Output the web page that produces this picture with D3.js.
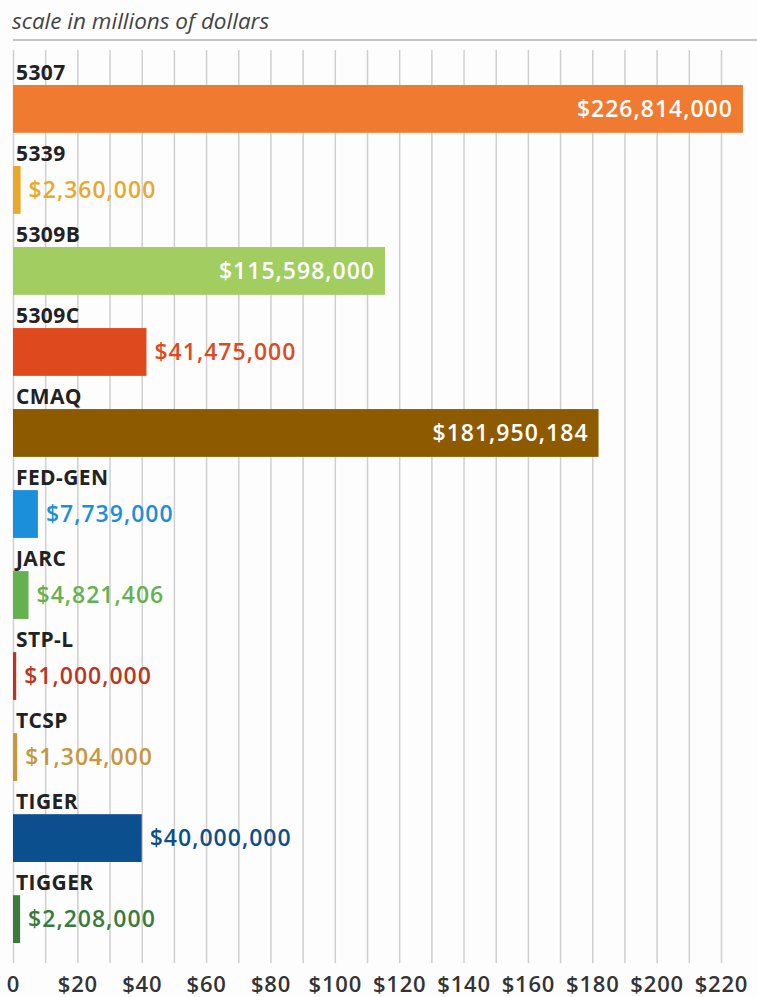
<!DOCTYPE html>
<html>
<head>
    <title>Funding by program</title>
    <script src="https://d3js.org/d3.v7.min.js"></script>
    <style>
        body { margin: 0; background: #fdfdfd; }
        .chart-title { font-family: "Open Sans", sans-serif; font-style: italic; font-weight: 400; font-size: 22.5px; fill: #444; }
        .cat-label { font-family: "Open Sans", sans-serif; font-weight: 700; font-size: 21px; fill: #222; letter-spacing: 0.4px; }
        .val-label { font-family: "Open Sans", sans-serif; font-weight: 600; font-size: 23px; letter-spacing: 1px; }
        .grid line { stroke: #cfcfcf; stroke-width: 1.5; }
        .grid path { display: none; }
        .x-axis path, .x-axis line { display: none; }
        .x-axis text { font-family: "Open Sans", sans-serif; font-weight: 600; font-size: 22px; fill: #333; letter-spacing: 0.8px; }
    </style>
</head>
<body>
<div id="chart"></div>
<script>
    // program names, top to bottom
    const programs = ["5307", "5339", "5309B", "5309C", "CMAQ", "FED-GEN", "JARC", "STP-L", "TCSP", "TIGER", "TIGGER"];
    // funding in dollars
    const amounts = [226814000, 2360000, 115598000, 41475000, 181950184, 7739000, 4821406, 1000000, 1304000, 40000000, 2208000];
    const barColors = ["#f07a30", "#e9a82b", "#a2cd60", "#de4a1e", "#8e5a00", "#1b8fd9", "#65b04f", "#bb3524", "#c8963c", "#0c4f8e", "#3a7a3b"];
    // axis ticks in millions
    const tickValues = [0, 20, 40, 60, 80, 100, 120, 140, 160, 180, 200, 220];
    const gridValues = d3.range(0, 230, 10);

    const W = 757, H = 997;
    const svg = d3.select("#chart").append("svg")
        .attr("width", W)
        .attr("height", H);

    const x = d3.scaleLinear().domain([0, 220]).range([13, 721]);
    const y = d3.scaleBand().domain(programs).range([85, 943]).paddingInner(0.41).paddingOuter(0);

    const gridTop = 50, gridBottom = 963;

    // title + rule
    svg.append("text").attr("class", "chart-title")
        .attr("x", 12).attr("y", 29)
        .text("scale in millions of dollars");
    svg.append("line")
        .attr("x1", 13).attr("x2", W)
        .attr("y1", 40).attr("y2", 40)
        .attr("stroke", "#c4c4c4").attr("stroke-width", 2);

    // vertical gridlines every $10M
    svg.append("g").attr("class", "grid")
        .attr("transform", `translate(0,${gridBottom})`)
        .call(d3.axisBottom(x).tickValues(gridValues).tickSize(-(gridBottom - gridTop)).tickFormat(""));

    // tick labels
    svg.append("g").attr("class", "x-axis")
        .attr("transform", `translate(0,${gridBottom})`)
        .call(d3.axisBottom(x).tickValues(tickValues).tickSize(0).tickPadding(13)
            .tickFormat(d => d === 0 ? "0" : "$" + d));

    const data = programs.map((p, i) => ({ name: p, value: amounts[i] / 1e6, raw: amounts[i], color: barColors[i] }));
    const fmt = d3.format("$,");

    const rows = svg.selectAll(".row").data(data).enter().append("g").attr("class", "row");

    rows.append("text").attr("class", "cat-label")
        .attr("x", 16)
        .attr("y", d => y(d.name) - 5)
        .text(d => d.name);

    rows.append("rect")
        .attr("x", x(0))
        .attr("y", d => y(d.name))
        .attr("width", d => x(d.value) - x(0))
        .attr("height", y.bandwidth())
        .attr("fill", d => d.color);

    rows.append("text").attr("class", "val-label")
        .attr("y", d => y(d.name) + y.bandwidth() / 2)
        .attr("dy", "0.36em")
        .attr("x", d => d.value > 100 ? x(d.value) - 10 : x(d.value) + 8)
        .attr("text-anchor", d => d.value > 100 ? "end" : "start")
        .attr("fill", d => d.value > 100 ? "#fff" : d.color)
        .text(d => fmt(d.raw));
</script>
</body>
</html>
